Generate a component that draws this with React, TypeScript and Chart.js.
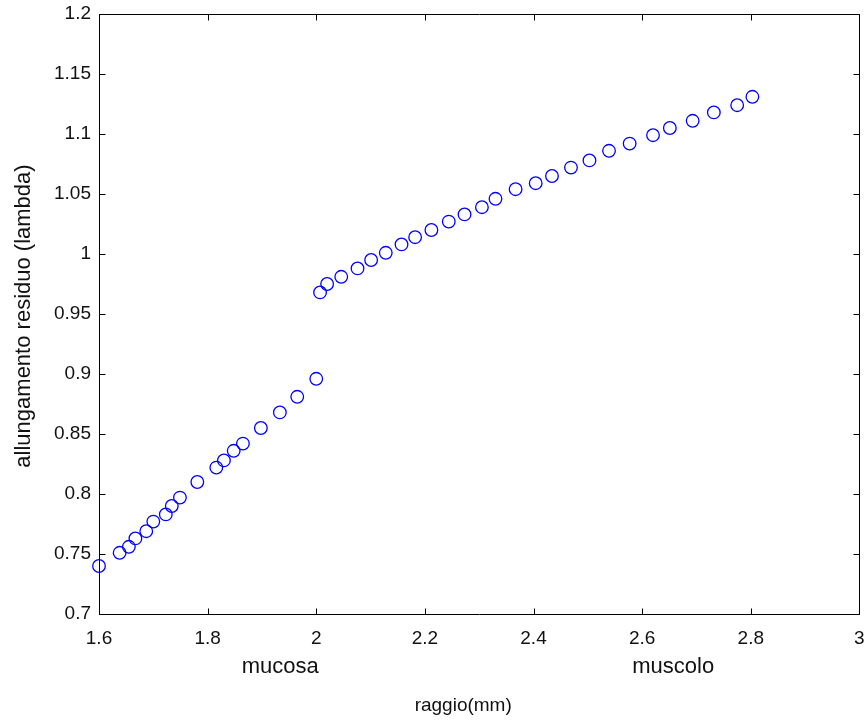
import React, { useEffect, useRef } from "react";
import { Chart, registerables } from "chart.js";

Chart.register(...registerables);

// raggio (mm) and allungamento residuo (lambda)
const mucosaRadius = [1.600, 1.638, 1.655, 1.667, 1.687, 1.700, 1.723, 1.734, 1.749, 1.781, 1.816, 1.830, 1.848, 1.865, 1.898, 1.933, 1.965, 2.000];
const mucosaLambda = [0.740, 0.751, 0.756, 0.763, 0.769, 0.777, 0.783, 0.790, 0.797, 0.810, 0.822, 0.828, 0.836, 0.842, 0.855, 0.868, 0.881, 0.896];
const muscoloRadius = [2.007, 2.020, 2.046, 2.076, 2.101, 2.128, 2.157, 2.182, 2.212, 2.244, 2.273, 2.305, 2.330, 2.367, 2.404, 2.434, 2.469, 2.503, 2.539, 2.577, 2.620, 2.651, 2.693, 2.732, 2.775, 2.803];
const muscoloLambda = [0.968, 0.975, 0.981, 0.988, 0.995, 1.001, 1.008, 1.014, 1.020, 1.027, 1.033, 1.039, 1.046, 1.054, 1.059, 1.065, 1.072, 1.078, 1.086, 1.092, 1.099, 1.105, 1.111, 1.118, 1.124, 1.131];

const xTicks = [1.6, 1.8, 2, 2.2, 2.4, 2.6, 2.8, 3];
const yTicks = [0.7, 0.75, 0.8, 0.85, 0.9, 0.95, 1, 1.05, 1.1, 1.15, 1.2];

const yLabel = "allungamento residuo (lambda)";
const xLabelLeft = "mucosa";
const xLabelRight = "muscolo";
const xLabel = "raggio(mm)";

const FONT = '"Liberation Sans", Arial, Helvetica, sans-serif';

const fmt = (v: number) => String(Number(v.toFixed(2)));

export default function App() {
  const ref = useRef<HTMLCanvasElement | null>(null);

  useEffect(() => {
    document.body.style.margin = "0";
    const canvas = ref.current!;
    const points = [
      ...mucosaRadius.map((x, i) => ({ x, y: mucosaLambda[i] })),
      ...muscoloRadius.map((x, i) => ({ x, y: muscoloLambda[i] })),
    ];

    const matlabAxes = {
      id: "matlabAxes",
      afterDatasetsDraw(chart: any) {
        const { ctx, chartArea: a, scales } = chart;
        ctx.save();
        ctx.strokeStyle = "#000";
        ctx.lineWidth = 1;
        ctx.beginPath();
        const L = Math.round(a.left) + 0.5;
        const R = Math.round(a.right) + 0.5;
        const T = Math.round(a.top) + 0.5;
        const B = Math.round(a.bottom) + 0.5;
        ctx.rect(L, T, R - L, B - T);
        const tl = 6;
        for (const v of xTicks) {
          const px = Math.round(scales.x.getPixelForValue(v)) + 0.5;
          ctx.moveTo(px, B); ctx.lineTo(px, B - tl);
          ctx.moveTo(px, T); ctx.lineTo(px, T + tl);
        }
        for (const v of yTicks) {
          const py = Math.round(scales.y.getPixelForValue(v)) + 0.5;
          ctx.moveTo(L, py); ctx.lineTo(L + tl, py);
          ctx.moveTo(R, py); ctx.lineTo(R - tl, py);
        }
        ctx.stroke();

        ctx.fillStyle = "#111";
        const cx = (a.left + a.right) / 2;
        ctx.textAlign = "center";
        ctx.textBaseline = "alphabetic";
        ctx.font = `22px ${FONT}`;
        ctx.fillText(xLabelLeft, cx - 199, a.bottom + 59);
        ctx.fillText(xLabelRight, cx + 194, a.bottom + 59);
        ctx.font = `19px ${FONT}`;
        ctx.fillText(xLabel, cx - 16, a.bottom + 97);

        ctx.translate(30, (a.top + a.bottom) / 2 + 2);
        ctx.rotate(-Math.PI / 2);
        ctx.font = `22px ${FONT}`;
        ctx.fillText(yLabel, 0, 0);
        ctx.restore();
      },
    };

    const chart = new Chart(canvas, {
      type: "scatter",
      data: {
        datasets: [
          {
            data: points,
            pointStyle: "circle",
            pointRadius: 6.3,
            pointHoverRadius: 6.3,
            pointBorderWidth: 1.3,
            borderColor: "#0000ff",
            backgroundColor: "rgba(0,0,0,0)",
            pointBackgroundColor: "rgba(0,0,0,0)",
            pointBorderColor: "#0000ff",
            clip: false,
          } as any,
        ],
      },
      options: {
        animation: false,
        responsive: false,
        events: [],
        layout: { padding: { left: 0, right: 7, top: 14, bottom: 0 } },
        plugins: { legend: { display: false }, tooltip: { enabled: false } },
        scales: {
          x: {
            type: "linear",
            min: 1.6,
            max: 3,
            afterFit: (s: any) => { s.height = 112; s.paddingLeft = 0; s.paddingRight = 0; },
            afterBuildTicks: (s: any) => { s.ticks = xTicks.map((v) => ({ value: v })); },
            grid: { display: false, drawTicks: false },
            border: { display: false },
            ticks: {
              padding: 13,
              color: "#111",
              font: { family: FONT, size: 19 },
              maxRotation: 0,
              autoSkip: false,
              callback: (v: any) => fmt(Number(v)),
            },
          },
          y: {
            type: "linear",
            min: 0.7,
            max: 1.2,
            afterFit: (s: any) => { s.width = 99; s.paddingTop = 0; s.paddingBottom = 0; },
            afterBuildTicks: (s: any) => { s.ticks = yTicks.map((v) => ({ value: v })); },
            grid: { display: false, drawTicks: false },
            border: { display: false },
            ticks: {
              padding: 8,
              color: "#111",
              font: { family: FONT, size: 19 },
              autoSkip: false,
              callback: (v: any) => fmt(Number(v)),
            },
          },
        },
      },
      plugins: [matlabAxes],
    });
    return () => chart.destroy();
  }, []);

  return <canvas ref={ref} width={867} height={726} style={{ display: "block" }} />;
}
